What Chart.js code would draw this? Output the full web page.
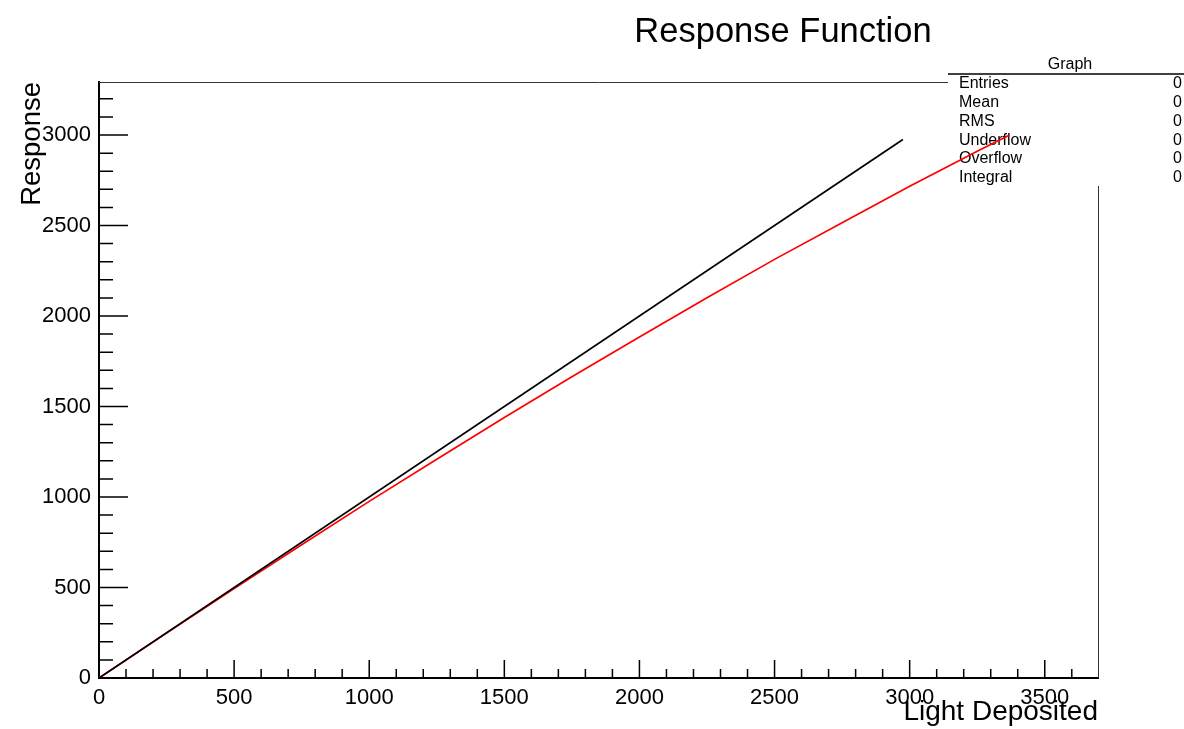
<!DOCTYPE html>
<html>
<head>
<meta charset="utf-8">
<script src="https://cdn.jsdelivr.net/npm/chart.js@4.4.1/dist/chart.umd.min.js"></script>
<style>
  html, body { margin: 0; padding: 0; background: #fff; }
  #wrap { width: 1184px; height: 729px; position: relative; }
</style>
</head>
<body>
<div id="wrap"><canvas id="c" width="1184" height="729"></canvas></div>
<script>
// Identity reference (response = light)
const idealX = [0, 2975];
const idealY = [0, 2975];

// Measured response function
const respX = [0, 250, 500, 750, 1000, 1250, 1500, 1750, 2000, 2250, 2500, 2750, 3000, 3250, 3370];
const respY = [0, 248, 494, 736, 976, 1209, 1439, 1664, 1884, 2101, 2313, 2516, 2717, 2910, 3000];

// Major tick values on each axis
const xMajor = [0, 500, 1000, 1500, 2000, 2500, 3000, 3500];
const yMajor = [0, 500, 1000, 1500, 2000, 2500, 3000];

// Statistics box rows
const statNames = ['Entries', 'Mean', 'RMS', 'Underflow', 'Overflow', 'Integral'];
const statValues = ['0', '0', '0', '0', '0', '0'];

const FONT = '"Liberation Sans", Arial, Helvetica, sans-serif';

const toPoints = (xs, ys) => xs.map((x, i) => ({ x: x, y: ys[i] }));

// Frame, inward tick marks, title and stats box
const rootStyle = {
  id: 'rootStyle',
  beforeDatasetsDraw(chart) {
    const ctx = chart.ctx;
    const a = chart.chartArea;
    const xs = chart.scales.x, ys = chart.scales.y;
    ctx.save();

    // top and right frame lines
    ctx.strokeStyle = '#333';
    ctx.lineWidth = 1;
    ctx.beginPath();
    ctx.moveTo(a.left, a.top + 0.5);
    ctx.lineTo(a.right, a.top + 0.5);
    ctx.moveTo(a.right + 0.5, a.top);
    ctx.lineTo(a.right + 0.5, a.bottom);
    ctx.stroke();

    // inward ticks
    ctx.strokeStyle = '#000';
    ctx.lineWidth = 1.5;
    ctx.beginPath();
    for (let v = 0; v <= xs.max; v += 100) {
      const px = xs.getPixelForValue(v);
      const len = (v % 500 === 0) ? 18 : 9;
      ctx.moveTo(px, a.bottom);
      ctx.lineTo(px, a.bottom - len);
    }
    for (let v = 0; v <= ys.max; v += 100) {
      const py = ys.getPixelForValue(v);
      const len = (v % 500 === 0) ? 29 : 14;
      ctx.moveTo(a.left, py);
      ctx.lineTo(a.left + len, py);
    }
    ctx.stroke();

    // stats box
    const bx = 948, by = 74, bw = 1184 - 948, bh = 112;
    ctx.fillStyle = '#fff';
    ctx.fillRect(bx, by, bw, bh);
    ctx.strokeStyle = '#000';
    ctx.lineWidth = 1.5;
    ctx.beginPath();
    ctx.moveTo(bx, by);
    ctx.lineTo(bx + bw, by);
    ctx.stroke();

    ctx.fillStyle = '#000';
    ctx.font = '16px ' + FONT;
    ctx.textBaseline = 'middle';
    ctx.textAlign = 'center';
    ctx.fillText('Graph', 1070, 65);
    statNames.forEach((name, i) => {
      const y = 84 + i * 18.7;
      ctx.textAlign = 'left';
      ctx.fillText(name, 959, y);
      ctx.textAlign = 'right';
      ctx.fillText(statValues[i], 1182, y);
    });

    // title
    ctx.font = '34.5px ' + FONT;
    ctx.textAlign = 'center';
    ctx.fillText('Response Function', 783, 32);
    ctx.restore();
  }
};

new Chart(document.getElementById('c'), {
  type: 'scatter',
  data: {
    datasets: [
      {
        label: 'ideal',
        data: toPoints(idealX, idealY),
        showLine: true,
        borderColor: '#000',
        borderWidth: 1.7,
        pointRadius: 0,
        fill: false
      },
      {
        label: 'response',
        data: toPoints(respX, respY),
        showLine: true,
        borderColor: '#ff0000',
        borderWidth: 1.7,
        pointRadius: 0,
        fill: false
      }
    ]
  },
  options: {
    responsive: false,
    animation: false,
    devicePixelRatio: 1,
    layout: { padding: { top: 82, right: 86, left: 0, bottom: 0 } },
    plugins: { legend: { display: false }, tooltip: { enabled: false }, title: { display: false } },
    scales: {
      x: {
        type: 'linear',
        min: 0,
        max: 3697,
        afterFit: s => { s.height = 51; },
        afterBuildTicks: s => { s.ticks = xMajor.map(v => ({ value: v })); },
        grid: { display: false, drawTicks: false },
        border: { display: true, color: '#000', width: 2 },
        ticks: {
          includeBounds: false,
          maxRotation: 0,
          autoSkip: false,
          padding: 7,
          color: '#000',
          font: { family: FONT, size: 22 },
          callback: v => String(v)
        },
        title: {
          display: true,
          text: 'Light Deposited',
          align: 'end',
          color: '#000',
          font: { family: FONT, size: 28 },
          padding: { top: 0, bottom: 0 }
        }
      },
      y: {
        type: 'linear',
        min: 0,
        max: 3293,
        afterFit: s => { s.width = 99; },
        afterBuildTicks: s => { s.ticks = yMajor.map(v => ({ value: v })); },
        grid: { display: false, drawTicks: false },
        border: { display: true, color: '#000', width: 2 },
        ticks: {
          includeBounds: false,
          autoSkip: false,
          padding: 8,
          color: '#000',
          font: { family: FONT, size: 22 },
          callback: v => String(v)
        },
        title: {
          display: true,
          text: 'Response',
          align: 'end',
          color: '#000',
          font: { family: FONT, size: 27.5 },
          padding: { top: 16, bottom: 0 }
        }
      }
    }
  },
  plugins: [rootStyle]
});
</script>
</body>
</html>
